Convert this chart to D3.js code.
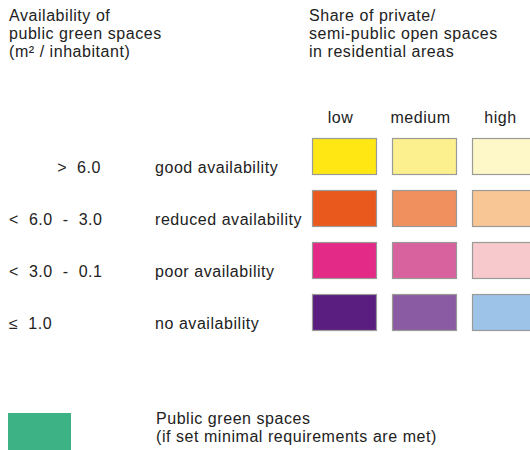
<!DOCTYPE html>
<html>
<head>
<meta charset="utf-8">
<script src="https://cdn.jsdelivr.net/npm/d3@7"></script>
<style>
  body { margin: 0; background: #fff; }
  text { font-family: "Liberation Sans", Arial, sans-serif; font-size: 16px; fill: #222; letter-spacing: 0.55px; white-space: pre; }
</style>
</head>
<body>
<svg id="chart" width="530" height="450"></svg>
<script>
// legend content
var leftTitle = ["Availability of", "public green spaces", "(m\u00b2 / inhabitant)"]
var rightTitle = ["Share of private/", "semi-public open spaces", "in residential areas"]
var shareLevels = ["low", "medium", "high"]
var rangeLabels = [">  6.0", "<  6.0  -  3.0", "<  3.0  -  0.1", "\u2264  1.0"]
var availLabels = ["good availability", "reduced availability", "poor availability", "no availability"]
var cellColors = [
  ["#ffe714", "#fcef8e", "#fef8c8"],
  ["#e9591e", "#f0905f", "#f8c595"],
  ["#e42a87", "#d7629e", "#f7c9cc"],
  ["#591e80", "#8a5ba3", "#9dc3e8"]
]
var greenColor = "#3db285"
var greenLabel = ["Public green spaces", "(if set minimal requirements are met)"]

var svg = d3.select("#chart")

var x = d3.scaleBand().domain(shareLevels).range([312, 537]).paddingInner(15 / 80)
var y = d3.scaleBand().domain(availLabels).range([138, 331]).paddingInner(15 / 52)

// titles
svg.selectAll("text.ltitle").data(leftTitle).enter().append("text")
  .attr("class", "ltitle")
  .attr("x", 9).attr("y", function(d, i) { return 20.5 + i * 18 })
  .text(function(d) { return d })

svg.selectAll("text.rtitle").data(rightTitle).enter().append("text")
  .attr("class", "rtitle")
  .attr("x", 309).attr("y", function(d, i) { return 20.5 + i * 18 })
  .text(function(d) { return d })

// column headers
svg.selectAll("text.col").data(shareLevels).enter().append("text")
  .attr("class", "col")
  .attr("x", function(d) { return x(d) + x.bandwidth() / 2 - 4 })
  .attr("y", 122.5)
  .attr("text-anchor", "middle")
  .text(function(d) { return d })

// row labels
svg.selectAll("text.range").data(rangeLabels).enter().append("text")
  .attr("class", "range")
  .attr("x", function(d, i) { return i == 0 ? 101 : 9 })
  .attr("text-anchor", function(d, i) { return i == 0 ? "end" : "start" })
  .attr("y", function(d, i) { return y(availLabels[i]) + y.bandwidth() / 2 + 16 })
  .text(function(d) { return d })

svg.selectAll("text.avail").data(availLabels).enter().append("text")
  .attr("class", "avail")
  .attr("x", 155)
  .attr("y", function(d) { return y(d) + y.bandwidth() / 2 + 16 })
  .text(function(d) { return d })

// grid of swatches
var cells = []
availLabels.forEach(function(a, r) {
  shareLevels.forEach(function(s, c) {
    cells.push({ row: a, col: s, color: cellColors[r][c] })
  })
})

svg.selectAll("rect.cell").data(cells).enter().append("rect")
  .attr("class", "cell")
  .attr("x", function(d) { return x(d.col) + 0.5 })
  .attr("y", function(d) { return y(d.row) + 0.5 })
  .attr("width", x.bandwidth() - 1)
  .attr("height", y.bandwidth() - 1)
  .style("fill", function(d) { return d.color })
  .style("stroke", "#9a9a96")
  .style("stroke-width", 1.2)

// public green spaces
svg.append("rect")
  .attr("x", 8).attr("y", 413)
  .attr("width", x.bandwidth() - 2).attr("height", y.bandwidth())
  .style("fill", greenColor)

svg.selectAll("text.green").data(greenLabel).enter().append("text")
  .attr("class", "green")
  .attr("x", 156).attr("y", function(d, i) { return 423.5 + i * 18 })
  .text(function(d) { return d })
</script>
</body>
</html>
